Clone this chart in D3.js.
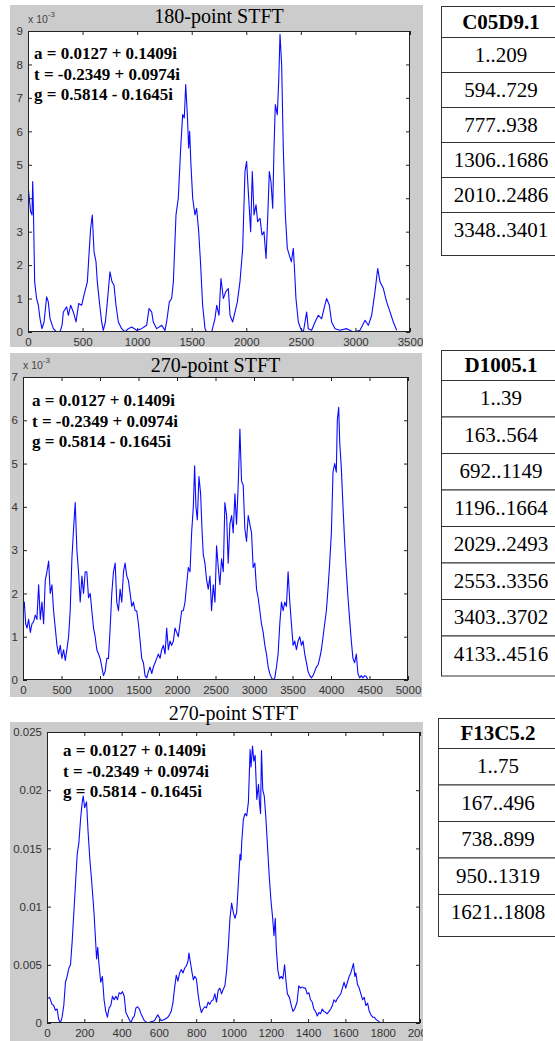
<!DOCTYPE html>
<html>
<head>
<meta charset="utf-8">
<script src="https://cdn.jsdelivr.net/npm/d3@7"></script>
<style>
  body { margin: 0; background: #fff; }
  svg { display: block; }
  .tick text { font-family: "Liberation Sans", Arial, sans-serif; font-size: 11.5px; fill: #333; }
  .tick line { stroke: #222; stroke-width: 1; }
</style>
</head>
<body>
<svg id="fig" width="555" height="1041"></svg>
<script>
// ---------- data ----------
// C05D9.1, 180-point STFT magnitude (values in units of 1e-3)
const stftC05D9 = [
  [0,4.4],[12,4.0],[24,3.6],[37,3.5],[43,4.5],[49,3.8],[61,1.5],[79,1.0],[95,0.8],[110,0.4],
  [128,0.1],[147,0.3],[171,1.05],[186,0.9],[202,0.4],[232,0.1],[263,0],[293,0],[312,0.2],[324,0.6],
  [354,0.75],[370,0.5],[391,0.8],[415,0.6],[440,0.3],[464,0.85],[492,0.8],[513,1.1],[544,1.5],[562,2.5],
  [574,3.1],[589,3.5],[605,2.4],[623,2.1],[635,1.5],[654,0.9],[675,0.3],[690,0.05],[709,0.3],[727,0.9],
  [751,1.8],[770,1.5],[788,1.4],[806,0.8],[828,0.3],[858,0.1],[889,0],[919,0.1],[950,0.15],[996,0.05],
  [1041,0.1],[1087,0.2],[1109,0.7],[1133,0.6],[1148,0.3],[1179,0.1],[1225,0.2],[1255,0.05],[1270,0.3],[1295,0.9],
  [1316,1.0],[1332,1.5],[1356,3.5],[1377,4.0],[1399,5.5],[1417,6.5],[1432,6.4],[1445,7.4],[1460,6.5],[1472,5.5],
  [1481,6.0],[1493,5.0],[1509,4.0],[1530,3.5],[1545,3.7],[1564,3.0],[1582,2.0],[1600,0.8],[1622,0.1],[1637,0],
  [1683,0],[1713,0.4],[1729,0.8],[1750,0.5],[1768,1.6],[1790,1.0],[1811,1.2],[1835,1.3],[1851,0.5],[1875,0.3],
  [1897,0.6],[1918,0.9],[1942,1.5],[1967,2.5],[1988,4.8],[2003,5.1],[2022,4.0],[2040,3.0],[2055,4.8],[2071,3.5],
  [2089,3.8],[2104,3.3],[2126,3.4],[2144,2.9],[2162,3.0],[2181,2.2],[2196,3.4],[2211,4.8],[2226,4.5],[2242,3.7],
  [2254,5.5],[2266,6.8],[2284,6.5],[2297,7.5],[2309,8.9],[2324,8.0],[2339,5.5],[2358,3.5],[2376,2.5],[2394,2.3],
  [2413,2.1],[2431,2.5],[2443,1.8],[2455,1.0],[2477,0.3],[2498,0.1],[2523,0],[2553,0.6],[2568,0.1],[2599,0.05],
  [2630,0.3],[2660,0.5],[2691,0.4],[2712,0.7],[2736,1.0],[2761,0.8],[2782,0.3],[2813,0.1],[2859,0.05],[2920,0.1],
  [2981,0],[3042,0.05],[3088,0.35],[3118,0.2],[3149,0.5],[3179,1.2],[3204,1.9],[3225,1.5],[3256,1.3],[3286,0.9],
  [3317,0.6],[3347,0.3],[3378,0.05]
];

// D1005.1, 270-point STFT magnitude (values in units of 1e-3)
const stftD1005 = [
  [0,1.6],[17,1.8],[35,1.3],[52,1.2],[73,1.4],[95,1.1],[117,1.3],[138,1.35],[160,1.5],[181,1.4],
  [203,2.2],[225,1.4],[246,1.8],[268,1.3],[289,2.3],[311,2.5],[333,2.75],[354,2.0],[376,2.2],[397,1.6],
  [419,1.2],[441,0.8],[462,0.6],[484,0.8],[505,0.5],[527,0.7],[549,0.45],[570,0.7],[592,1.0],[613,1.6],
  [635,2.8],[657,3.5],[678,4.1],[700,3.0],[721,2.5],[743,1.8],[765,2.4],[786,2.0],[808,2.5],[829,2.5],
  [851,1.9],[873,2.0],[894,1.6],[916,1.2],[937,1.0],[959,0.7],[981,0.6],[1002,0.5],[1024,0.3],[1045,0.1],
  [1067,0.2],[1089,0.5],[1110,0.5],[1132,1.2],[1153,2.0],[1175,2.5],[1197,2.7],[1218,1.8],[1240,1.6],[1261,2.1],
  [1283,1.8],[1305,2.5],[1326,2.7],[1348,2.4],[1369,2.3],[1391,2.0],[1413,1.7],[1434,1.8],[1456,1.6],[1477,1.6],
  [1499,1.3],[1521,0.9],[1542,0.5],[1564,0.4],[1585,0.1],[1607,0.05],[1629,0.2],[1650,0.3],[1672,0.15],[1693,0.3],
  [1715,0.4],[1737,0.5],[1758,0.6],[1780,0.5],[1801,0.7],[1823,0.8],[1845,0.6],[1866,1.2],[1888,0.7],[1909,0.9],
  [1931,0.8],[1953,0.9],[1974,1.2],[1996,1.1],[2017,1.0],[2039,1.3],[2061,1.6],[2082,1.6],[2104,1.8],[2125,2.2],
  [2147,2.6],[2169,2.5],[2190,3.4],[2212,4.0],[2229,4.95],[2246,4.0],[2264,3.7],[2285,4.7],[2307,4.3],[2324,3.5],
  [2341,2.9],[2363,2.7],[2385,2.3],[2406,2.1],[2428,2.4],[2449,1.6],[2471,2.2],[2493,1.8],[2514,3.1],[2536,2.6],
  [2557,2.2],[2579,2.8],[2601,2.5],[2622,4.1],[2644,3.8],[2665,2.7],[2687,3.6],[2709,3.8],[2730,3.4],[2752,4.3],
  [2773,3.6],[2795,4.5],[2817,5.8],[2838,4.6],[2860,4.5],[2881,3.5],[2903,3.2],[2925,3.8],[2946,3.6],[2968,3.4],
  [2989,2.6],[3011,2.7],[3033,2.1],[3054,1.9],[3076,1.6],[3097,1.3],[3119,1.1],[3141,0.8],[3162,0.6],[3184,0.3],
  [3205,0.15],[3227,0.05],[3249,0],[3270,0.05],[3292,0.3],[3313,0.6],[3335,1.3],[3357,1.8],[3378,1.6],[3400,1.8],
  [3421,1.7],[3443,2.5],[3465,1.8],[3486,1.3],[3508,0.8],[3529,0.9],[3551,0.7],[3573,0.9],[3594,1.0],[3616,0.8],
  [3637,0.9],[3659,0.6],[3681,0.4],[3702,0.2],[3724,0.1],[3745,0.05],[3767,0.1],[3789,0.2],[3810,0.3],[3832,0.35],
  [3853,0.5],[3875,0.7],[3897,1.0],[3918,1.3],[3940,1.6],[3961,2.1],[3983,2.7],[4005,3.4],[4026,4.8],[4048,5.0],
  [4069,4.8],[4082,6.0],[4100,6.3],[4113,5.5],[4134,4.9],[4156,4.0],[4177,3.2],[4199,2.5],[4221,1.9],[4242,1.4],
  [4264,0.9],[4285,0.5],[4307,0.4],[4329,0.6],[4350,0.15],[4372,0.05],[4393,0.1],[4415,0.05],[4437,0.1],[4458,0.08],
  [4480,0]
];

// F13C5.2, 270-point STFT magnitude
const stftF13C5 = [
  [0,0.0021],[14,0.0022],[27,0.0016],[36,0.0015],[45,0.0011],[54,0.0012],[63,0.0003],[72,0.0],[81,0.0005],[90,0.0015],
  [99,0.0035],[108,0.0040],[117,0.0047],[126,0.0050],[135,0.0070],[144,0.0095],[153,0.0120],[162,0.0145],[171,0.0155],[180,0.0175],
  [189,0.0190],[194,0.0195],[202,0.0185],[212,0.0190],[220,0.0165],[230,0.0140],[238,0.0125],[245,0.0110],[252,0.0095],[259,0.0075],
  [266,0.0055],[272,0.0065],[279,0.0050],[288,0.0035],[297,0.0040],[306,0.0020],[315,0.0010],[324,0.0005],[333,0.0013],[342,0.0015],
  [351,0.0023],[360,0.0020],[369,0.0023],[378,0.0020],[387,0.0026],[396,0.0025],[405,0.0027],[414,0.0023],[423,0.0009],[432,0.0006],
  [441,0.0003],[450,0.0],[459,0.0004],[468,0.0006],[477,0.0013],[486,0.0014],[495,0.0012],[504,0.0008],[513,0.0005],[522,0.0002],
  [531,0.0001],[540,0.0],[558,0.0001],[576,0.0002],[594,0.0007],[612,0.0002],[630,0.0003],[648,0.0005],[657,0.0007],[666,0.0010],
  [675,0.0017],[684,0.0030],[693,0.0041],[702,0.0036],[711,0.0043],[720,0.0046],[729,0.0043],[738,0.0047],[747,0.0049],[756,0.0053],
  [761,0.0060],[769,0.0052],[778,0.0043],[785,0.0037],[792,0.0040],[801,0.0038],[810,0.0025],[819,0.0015],[828,0.0009],[837,0.0012],
  [846,0.0014],[855,0.0013],[864,0.0018],[873,0.0016],[882,0.0019],[891,0.0020],[900,0.0025],[909,0.0018],[918,0.0028],[927,0.0030],
  [936,0.0025],[945,0.0029],[954,0.0032],[963,0.0045],[972,0.0065],[981,0.0090],[990,0.0103],[999,0.0095],[1008,0.0090],[1017,0.0095],
  [1026,0.0120],[1035,0.0145],[1040,0.0140],[1044,0.0155],[1053,0.0175],[1062,0.0180],[1071,0.0178],[1080,0.0190],[1089,0.0235],[1094,0.0220],
  [1102,0.0238],[1109,0.0225],[1116,0.0230],[1125,0.0192],[1134,0.0205],[1139,0.0190],[1145,0.0180],[1150,0.0234],[1157,0.0200],[1165,0.0195],
  [1174,0.0175],[1183,0.0150],[1192,0.0125],[1201,0.0105],[1210,0.0090],[1217,0.0075],[1224,0.0090],[1229,0.0065],[1238,0.0045],[1247,0.0038],
  [1256,0.0040],[1265,0.0038],[1274,0.0050],[1282,0.0035],[1289,0.0025],[1300,0.0022],[1310,0.0015],[1319,0.0010],[1328,0.0012],[1341,0.0018],
  [1350,0.0032],[1359,0.0030],[1368,0.0031],[1377,0.0030],[1386,0.0030],[1395,0.0025],[1404,0.0026],[1413,0.0020],[1422,0.0018],[1431,0.0012],
  [1440,0.0010],[1449,0.0006],[1458,0.0009],[1467,0.0008],[1476,0.0012],[1485,0.0010],[1494,0.0009],[1503,0.0008],[1512,0.0010],[1521,0.0012],
  [1530,0.0015],[1539,0.0020],[1548,0.0018],[1557,0.0021],[1566,0.0023],[1575,0.0025],[1584,0.0030],[1593,0.0035],[1602,0.0030],[1611,0.0035],
  [1620,0.0040],[1629,0.0043],[1638,0.0048],[1643,0.0051],[1651,0.0040],[1656,0.0043],[1665,0.0033],[1674,0.0030],[1683,0.0025],[1692,0.0020],
  [1701,0.0022],[1710,0.0015],[1719,0.0017],[1728,0.0010],[1737,0.0007],[1746,0.0005],[1755,0.0005],[1764,0.0003],[1773,0.0002],[1782,0.0001],
  [1791,0.0]
];

const plotTitles = ["180-point STFT", "270-point STFT", "270-point STFT"];
const coefLines = ["a = 0.0127 + 0.1409i", "t = -0.2349 + 0.0974i", "g = 0.5814 - 0.1645i"];

const xTicksC05D9 = [0, 500, 1000, 1500, 2000, 2500, 3000, 3500];
const yTicksC05D9 = [0, 1, 2, 3, 4, 5, 6, 7, 8, 9];
const xTicksD1005 = [0, 500, 1000, 1500, 2000, 2500, 3000, 3500, 4000, 4500, 5000];
const yTicksD1005 = [0, 1, 2, 3, 4, 5, 6, 7];
const xTicksF13C5 = [0, 200, 400, 600, 800, 1000, 1200, 1400, 1600, 1800, 2000];
const yTicksF13C5 = [0, 0.005, 0.01, 0.015, 0.02, 0.025];

const tableC05D9 = ["C05D9.1", "1..209", "594..729", "777..938", "1306..1686", "2010..2486", "3348..3401"];
const tableD1005 = ["D1005.1", "1..39", "163..564", "692..1149", "1196..1664", "2029..2493", "2553..3356", "3403..3702", "4133..4516"];
const tableF13C5 = ["F13C5.2", "1..75", "167..496", "738..899", "950..1319", "1621..1808"];

// ---------- layout ----------
const panels = [
  { data: stftC05D9, title: plotTitles[0], xTicks: xTicksC05D9, yTicks: yTicksC05D9, exp: true,
    gray: { x: 10, y: 5, w: 413, h: 342 }, plot: { l: 28, t: 31, r: 410, b: 332 },
    titleY: 23, coefX: 34, coefY: 59,
    table: tableC05D9, tab: { x: 441, top: 6, head: 31, row: 35, last: 43 } },
  { data: stftD1005, title: plotTitles[1], xTicks: xTicksD1005, yTicks: yTicksD1005, exp: true,
    gray: { x: 10, y: 353, w: 412, h: 344 }, plot: { l: 23, t: 377, r: 408, b: 680 },
    titleY: 372, coefX: 32, coefY: 406,
    table: tableD1005, tab: { x: 441, top: 350, head: 30, row: 36.5, last: 40 } },
  { data: stftF13C5, title: plotTitles[2], xTicks: xTicksF13C5, yTicks: yTicksF13C5, exp: false,
    gray: { x: 10, y: 722, w: 413, h: 330 }, plot: { l: 47, t: 732, r: 420, b: 1023 },
    titleY: 720, coefX: 63, coefY: 756,
    table: tableF13C5, tab: { x: 438, top: 718, head: 30, row: 36.5, last: 42 } }
];

const svg = d3.select("#fig");
const defs = svg.append("defs");

const fmtTick = d => String(+(+d).toFixed(3));

panels.forEach((p, i) => {
  const g = svg.append("g");
  const gr = p.gray, pl = p.plot;

  // figure background clip (labels past the figure edge are cut)
  defs.append("clipPath").attr("id", "fig" + i)
    .append("rect").attr("x", gr.x).attr("y", gr.y - 30).attr("width", gr.w).attr("height", gr.h + 30);
  defs.append("clipPath").attr("id", "plot" + i)
    .append("rect").attr("x", pl.l).attr("y", pl.t - 1).attr("width", pl.r - pl.l).attr("height", pl.b - pl.t + 1);

  g.append("rect").attr("x", gr.x).attr("y", gr.y).attr("width", gr.w).attr("height", gr.h)
    .attr("fill", "#cccccc");

  const fg = g.append("g").attr("clip-path", `url(#fig${i})`);

  fg.append("rect").attr("x", pl.l).attr("y", pl.t).attr("width", pl.r - pl.l).attr("height", pl.b - pl.t)
    .attr("fill", "#ffffff");

  const xDom = [p.xTicks[0], p.xTicks[p.xTicks.length - 1]];
  const yDom = [p.yTicks[0], p.yTicks[p.yTicks.length - 1]];
  const x = d3.scaleLinear().domain(xDom).range([pl.l, pl.r]);
  const y = d3.scaleLinear().domain(yDom).range([pl.b, pl.t]);

  // axes with inward ticks on all four sides
  fg.append("g").attr("transform", `translate(0,${pl.b})`)
    .call(d3.axisBottom(x).tickValues(p.xTicks).tickSize(-4).tickPadding(6).tickFormat(fmtTick))
    .call(a => a.select(".domain").remove());
  fg.append("g").attr("transform", `translate(0,${pl.t})`)
    .call(d3.axisTop(x).tickValues(p.xTicks).tickSize(-4).tickFormat(""))
    .call(a => a.select(".domain").remove());
  fg.append("g").attr("transform", `translate(${pl.l},0)`)
    .call(d3.axisLeft(y).tickValues(p.yTicks).tickSize(-4).tickPadding(5).tickFormat(fmtTick))
    .call(a => a.select(".domain").remove());
  fg.append("g").attr("transform", `translate(${pl.r},0)`)
    .call(d3.axisRight(y).tickValues(p.yTicks).tickSize(-4).tickFormat(""))
    .call(a => a.select(".domain").remove());

  // series
  fg.append("path").datum(p.data)
    .attr("clip-path", `url(#plot${i})`)
    .attr("fill", "none").attr("stroke", "#0a0aff").attr("stroke-width", 1.1)
    .attr("stroke-linejoin", "round")
    .attr("d", d3.line().x(d => x(d[0])).y(d => y(d[1])));

  // plot box
  fg.append("rect").attr("x", pl.l + 0.5).attr("y", pl.t + 0.5)
    .attr("width", pl.r - pl.l - 1).attr("height", pl.b - pl.t - 1)
    .attr("fill", "none").attr("stroke", "#222").attr("stroke-width", 1);

  // exponent label
  if (p.exp) {
    const t = fg.append("text").attr("x", pl.l).attr("y", pl.t - 8)
      .attr("font-family", "Liberation Sans, Arial, sans-serif").attr("font-size", 10.5).attr("fill", "#444");
    t.append("tspan").text("x 10");
    t.append("tspan").attr("dy", -6).attr("font-size", 8).text("-3");
  }

  // title
  g.append("text").attr("x", (pl.l + pl.r) / 2).attr("y", p.titleY)
    .attr("text-anchor", "middle")
    .attr("font-family", "Liberation Serif, Times New Roman, serif").attr("font-size", 20)
    .attr("fill", "#000").text(p.title);

  // coefficient annotations
  g.append("g").selectAll("text").data(coefLines).join("text")
    .attr("x", p.coefX).attr("y", (d, k) => p.coefY + k * 20.5)
    .attr("font-family", "Liberation Serif, Times New Roman, serif").attr("font-size", 17)
    .attr("font-weight", "bold").attr("fill", "#000").text(d => d);

  // interval table
  const tb = p.tab;
  const width = 124;
  const rows = p.table.map((label, k) => {
    let y0, h;
    if (k === 0) { y0 = tb.top; h = tb.head; }
    else { y0 = tb.top + tb.head + (k - 1) * tb.row; h = (k === p.table.length - 1) ? tb.last : tb.row; }
    return { label, y0, h, head: k === 0 };
  });
  const tg = svg.append("g");
  tg.selectAll("rect").data(rows).join("rect")
    .attr("x", tb.x + 0.5).attr("y", d => d.y0 + 0.5)
    .attr("width", width).attr("height", d => d.h)
    .attr("fill", "#fff").attr("stroke", "#333").attr("stroke-width", 1);
  tg.selectAll("text").data(rows).join("text")
    .attr("x", tb.x + 60).attr("y", d => d.y0 + (d.head ? d.h / 2 + 7 : Math.min(d.h, tb.row) / 2 + 7))
    .attr("text-anchor", "middle")
    .attr("font-family", "Liberation Serif, Times New Roman, serif")
    .attr("font-size", 21).attr("font-weight", d => d.head ? "bold" : "normal")
    .attr("fill", "#000").text(d => d.label);
});
</script>
</body>
</html>
